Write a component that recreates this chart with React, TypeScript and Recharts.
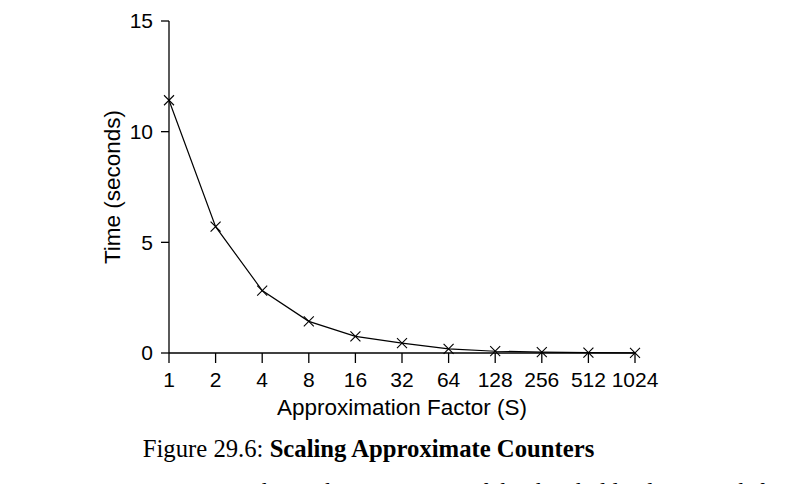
import React from 'react';
import { LineChart, Line, XAxis, YAxis, Label } from 'recharts';

const factors = ['1', '2', '4', '8', '16', '32', '64', '128', '256', '512', '1024'];
const times = [11.42, 5.71, 2.82, 1.43, 0.75, 0.45, 0.19, 0.08, 0.04, 0.02, 0.01];
const yTicks = [0, 5, 10, 15];
const xLabel = 'Approximation Factor (S)';
const yLabel = 'Time (seconds)';
const captionPrefix = 'Figure 29.6: ';
const captionTitle = 'Scaling Approximate Counters';
const bodyLine = 'Figure 29.6 shows the importance of the threshold value S, with four threads each';

const data = factors.map((f, i) => ({ factor: f, time: times[i] }));

const SANS = '"Liberation Sans", Arial, Helvetica, sans-serif';
const SERIF = '"Liberation Serif", "Times New Roman", serif';

const Cross = (props: any) => {
  const { cx, cy } = props;
  if (cx == null || cy == null) return null;
  const s = 5;
  return (
    <g>
      <line x1={cx - s} y1={cy - s} x2={cx + s} y2={cy + s} stroke="#000" strokeWidth={1.1} />
      <line x1={cx - s} y1={cy + s} x2={cx + s} y2={cy - s} stroke="#000" strokeWidth={1.1} />
    </g>
  );
};

const YLab = (props: any) => {
  const vb = props.viewBox || {};
  const x = vb.x + 3;
  const y = vb.y + vb.height / 2;
  return (
    <text x={x} y={y} transform={`rotate(-90, ${x}, ${y})`} textAnchor="middle" dominantBaseline="central"
      fontFamily={SANS} fontSize={22.5} fill="#000">{yLabel}</text>
  );
};

const XLab = (props: any) => {
  const vb = props.viewBox || {};
  const x = vb.x + vb.width / 2;
  const y = vb.y + 62;
  return (
    <text x={x} y={y} textAnchor="middle" fontFamily={SANS} fontSize={22.5} fill="#000">{xLabel}</text>
  );
};

export default function App() {
  return (
    <div style={{ position: 'absolute', left: 0, top: 0, width: 785, height: 484, background: '#fff', overflow: 'hidden' }}>
      <LineChart width={785} height={484} data={data} margin={{ top: 21, right: 150, bottom: 71, left: 109 }}>
        <XAxis dataKey="factor" type="category" stroke="#000" strokeWidth={1.3} tickSize={10} tickMargin={9}
          tick={{ fill: '#000', fontSize: 21, fontFamily: SANS }} interval={0} height={60}
          tickLine={{ stroke: '#000', strokeWidth: 1.3 }}>
          <Label content={<XLab />} />
        </XAxis>
        <YAxis type="number" domain={[0, 15]} ticks={yTicks} stroke="#000" strokeWidth={1.3} tickSize={8} tickMargin={8}
          tick={{ fill: '#000', fontSize: 21, fontFamily: SANS }} width={60}
          tickLine={{ stroke: '#000', strokeWidth: 1.3 }}>
          <Label content={<YLab />} />
        </YAxis>
        <Line type="linear" dataKey="time" stroke="#000" strokeWidth={1.2} dot={<Cross />} activeDot={false}
          isAnimationActive={false} />
      </LineChart>
      <svg width={785} height={484} style={{ position: 'absolute', left: 0, top: 0, pointerEvents: 'none' }}>
        <text x={368.5} y={456.7} textAnchor="middle" fontFamily={SERIF} fontSize={24.7} fill="#000">
          <tspan>{captionPrefix}</tspan>
          <tspan fontWeight="bold">{captionTitle}</tspan>
        </text>
        <text x={136} y={499} fontFamily={SERIF} fontSize={24} fill="#000">{bodyLine}</text>
      </svg>
    </div>
  );
}
